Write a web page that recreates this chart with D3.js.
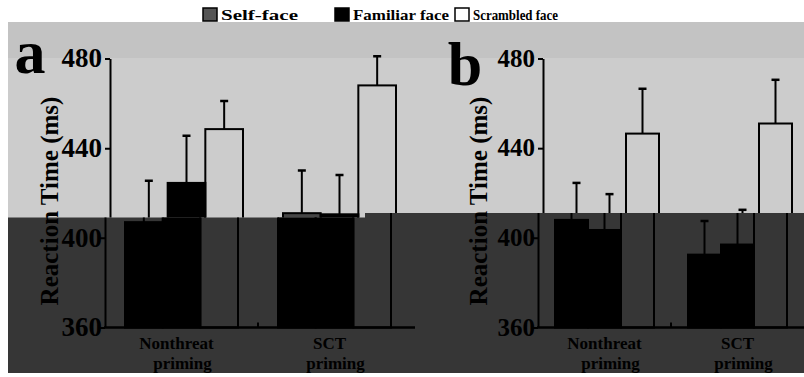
<!DOCTYPE html>
<html>
<head>
<meta charset="utf-8">
<script src="https://cdn.jsdelivr.net/npm/d3@7"></script>
<style>
body { margin: 0; background: #fff; }
svg { display: block; }
text { font-family: "Liberation Serif", "Times New Roman", serif; font-weight: bold; fill: #000; }
</style>
</head>
<body>
<script>
var groups = ["Nonthreat", "SCT"];
var series = ["Self-face", "Familiar face", "Scrambled face"];
var yTicks = [360, 400, 440, 480];

// panel a, means and error (ms)
var aSelf = [407, 411],      aSelfErr = [18.5, 19];
var aFamiliar = [424.5, 410.5], aFamiliarErr = [21, 17.5];
var aScrambled = [448.5, 468],  aScrambledErr = [12.5, 13];

// panel b
var bSelf = [408, 392.5],    bSelfErr = [16.5, 15];
var bFamiliar = [403.5, 397], bFamiliarErr = [16, 15.5];
var bScrambled = [446.5, 451], bScrambledErr = [20, 19.5];

var W = 804, H = 377;

var svg = d3.select("body").append("svg")
    .attr("width", W)
    .attr("height", H);

// background bands
svg.append("rect").attr("x", 8).attr("y", 22).attr("width", W - 8).attr("height", 37).attr("fill", "#c3c3c3");
svg.append("rect").attr("x", 8).attr("y", 58).attr("width", W - 8).attr("height", 160).attr("fill", "#cccccc");
svg.append("path")
    .attr("d", "M8,217.5H365V213H804V373H8Z")
    .attr("fill", "#363636");

var defs = svg.append("defs");
defs.append("clipPath").attr("id", "clipTop")
    .append("path").attr("d", "M0,0H804V213H365V217.5H0Z");
defs.append("clipPath").attr("id", "clipBot")
    .append("path").attr("d", "M0,217.5H365V213H804V377H0Z");

var y = d3.scaleLinear().domain([360, 480]).range([327.5, 58.5]);

var panels = [
    { label: "a", range: [110, 416], inner: [20, 133], means: [aSelf, aFamiliar, aScrambled], errs: [aSelfErr, aFamiliarErr, aScrambledErr],
      tickFont: 27, titleX: 58, labelX: 30, labelY: 73, labelDx: -10 },
    { label: "b", range: [543, 809], inner: [17, 116], means: [bSelf, bFamiliar, bScrambled], errs: [bSelfErr, bFamiliarErr, bScrambledErr],
      tickFont: 25, titleX: 487, labelX: 465, labelY: 85, labelDx: -5 }
];

function drawPlot(g, p, lower) {
    var x0 = d3.scaleBand().domain(groups).range(p.range);
    var x1 = d3.scaleBand().domain(series).range(p.inner);
    var fills = lower ? ["#000", "#000", "none"] : ["#454545", "#000", "none"];

    groups.forEach(function(grp, i) {
        series.forEach(function(s, k) {
            var v = p.means[k][i], e = p.errs[k][i];
            var bx = x0(grp) + x1(s), bw = x1.bandwidth();
            var cx = bx + bw / 2;
            g.append("line")
                .attr("x1", cx).attr("x2", cx)
                .attr("y1", y(v)).attr("y2", y(v + e))
                .attr("stroke", "#000").attr("stroke-width", 2);
            g.append("line")
                .attr("x1", cx - 4).attr("x2", cx + 4)
                .attr("y1", y(v + e)).attr("y2", y(v + e))
                .attr("stroke", "#000").attr("stroke-width", 2.5);
            g.append("rect")
                .attr("x", bx).attr("y", y(v))
                .attr("width", bw).attr("height", y(360) - y(v))
                .attr("fill", fills[k])
                .attr("stroke", "#000").attr("stroke-width", 2);
        });
    });

    // y axis (lines only)
    g.append("g")
        .attr("transform", "translate(" + p.range[0] + ",0)")
        .call(d3.axisLeft(y).tickValues(yTicks).tickSize(5).tickSizeOuter(0).tickFormat(""))
        .call(function(a) {
            a.selectAll("path, line").attr("stroke", "#000").attr("stroke-width", 2);
        });

    // x axis line with inward tick between groups
    g.append("line")
        .attr("x1", p.range[0] - 1).attr("x2", p.range[1] + 4)
        .attr("y1", y(360)).attr("y2", y(360))
        .attr("stroke", "#000").attr("stroke-width", 2.5);
    g.append("line")
        .attr("x1", x0(groups[1])).attr("x2", x0(groups[1]))
        .attr("y1", y(360)).attr("y2", y(360) - 5)
        .attr("stroke", "#000").attr("stroke-width", 2);
}

panels.forEach(function(p) {
    var top = svg.append("g").attr("clip-path", "url(#clipTop)").append("g");
    drawPlot(top, p, false);
    var bot = svg.append("g").attr("clip-path", "url(#clipBot)").append("g")
        .attr("transform", "translate(-5,0)");
    drawPlot(bot, p, true);

    // tick labels
    yTicks.forEach(function(t) {
        svg.append("text")
            .attr("x", p.range[0] - 8)
            .attr("y", y(t) + p.tickFont * 0.33)
            .attr("text-anchor", "end")
            .attr("font-size", p.tickFont)
            .text(t);
    });

    // y title
    svg.append("text")
        .attr("transform", "translate(" + p.titleX + ",201) rotate(-90)")
        .attr("text-anchor", "middle")
        .attr("font-size", 25)
        .text("Reaction Time (ms)");

    // panel letter
    svg.append("text")
        .attr("x", p.labelX)
        .attr("y", p.labelY)
        .attr("text-anchor", "middle")
        .attr("font-size", 62)
        .text(p.label);

    // category labels
    var x0 = d3.scaleBand().domain(groups).range(p.range);
    var x1 = d3.scaleBand().domain(series).range(p.inner);
    groups.forEach(function(grp) {
        var cx = x0(grp) + (x1.range()[0] + x1.range()[1]) / 2 + p.labelDx;
        svg.append("text")
            .attr("x", cx).attr("y", 349)
            .attr("text-anchor", "middle")
            .attr("font-size", 17)
            .text(grp);
        svg.append("text")
            .attr("x", cx + 6).attr("y", 369)
            .attr("text-anchor", "middle")
            .attr("font-size", 17)
            .text("priming");
    });
});

// legend
var legendX = [203, 335, 455];
var legendW = [77, 96, 85];
var legendFill = ["#555", "#000", "#fff"];
series.forEach(function(s, k) {
    svg.append("rect")
        .attr("x", legendX[k]).attr("y", 8)
        .attr("width", 14).attr("height", 13)
        .attr("fill", legendFill[k])
        .attr("stroke", "#000").attr("stroke-width", 1.5);
    svg.append("text")
        .attr("x", legendX[k] + 18).attr("y", 20)
        .attr("font-size", 15)
        .attr("textLength", legendW[k])
        .attr("lengthAdjust", "spacingAndGlyphs")
        .text(s);
});
</script>
</body>
</html>
